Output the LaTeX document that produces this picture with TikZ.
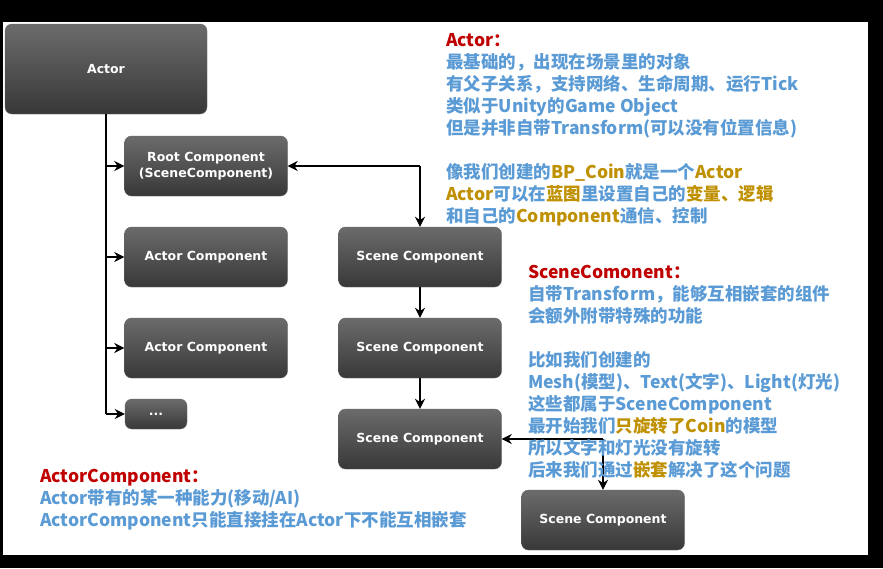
\documentclass[tikz,border=0pt]{standalone}
\usepackage{fontspec}
\usepackage{xcolor}
\setsansfont{DejaVu Sans}
\newfontfamily\cjk{Noto Sans CJK SC}
\definecolor{noteblue}{RGB}{91,155,213}
\definecolor{notered}{RGB}{192,0,0}
\definecolor{notegold}{RGB}{191,144,0}
\usetikzlibrary{arrows.meta}

\tikzset{
  comp/.style={rounded corners=7pt,top color=black!58,bottom color=black!78,draw=black!60,
    text=white,font=\sffamily\bfseries\fontsize{12.5}{16}\selectfont,align=center,
    minimum width=163pt,minimum height=60pt,inner sep=0pt},
  note/.style={anchor=north west,align=left,text=noteblue,inner sep=0pt,
    font=\cjk\bfseries\fontsize{17.5}{22}\selectfont},
  link/.style={line width=1.8pt,-{Stealth[length=10pt,width=10pt]}},
}

\begin{document}
\begin{tikzpicture}[x=1pt,y=-1pt]
        % frame
        \fill[black] (0,0) rectangle (883,568);
        \fill[white] (3,22) rectangle (868,555);
        \useasboundingbox (0,0) rectangle (883,568);

        % boxes
        \node[comp,minimum width=202pt,minimum height=90pt] (actor) at (106,69) {Actor};
        \node[comp] (root) at (206,166) {Root Component\\(SceneComponent)};
        \node[comp] (ac1) at (206,257) {Actor Component};
        \node[comp] (ac2) at (206,348) {Actor Component};
        \node[comp,minimum width=62pt,minimum height=30pt] (more) at (156,414) {...};
        \node[comp] (sc1) at (420,257) {Scene Component};
        \node[comp] (sc2) at (420,348) {Scene Component};
        \node[comp] (sc3) at (420,439) {Scene Component};
        \node[comp] (sc4) at (603,520) {Scene Component};

        % actor tree
        \draw[line width=1.8pt] (actor.south) -- (actor.south |- more);
        \foreach \n in {root,ac1,ac2,more}
          \draw[link] (actor.south |- \n) -- (\n.west);

        % scene components
        \coordinate (rc) at (sc1.north |- root.east);
        \draw[link] (rc) -- (root.east);
        \draw[link] (rc) -- (sc1.north);
        \draw[link] (sc1) -- (sc2);
        \draw[link] (sc2) -- (sc3);
        \coordinate (sc) at (sc4.north |- sc3.east);
        \draw[link] (sc) -- (sc3.east);
        \draw[link] (sc) -- (sc4.north);

        % notes
        \node[note] (actornote) at (446,33) {\textcolor{notered}{Actor：}\\
          最基础的，出现在场景里的对象\\
          有父子关系，支持网络、生命周期、运行Tick\\
          类似于Unity的Game Object\\
          但是并非自带Transform(可以没有位置信息)\\[22pt]
          像我们创建的\textcolor{notegold}{BP\_Coin}就是一个\textcolor{notegold}{Actor}\\
          \textcolor{notegold}{Actor}可以在\textcolor{notegold}{蓝图}里设置自己的\textcolor{notegold}{变量、逻辑}\\
          和自己的\textcolor{notegold}{Component}通信、控制};
        \node[note] (scenenote) at (528,265) {\textcolor{notered}{SceneComonent：}\\
          自带Transform，能够互相嵌套的组件\\
          会额外附带特殊的功能\\[22pt]
          比如我们创建的\\
          Mesh(模型)、Text(文字)、Light(灯光)\\
          这些都属于SceneComponent\\
          最开始我们\textcolor{notegold}{只旋转了Coin}的模型\\
          所以文字和灯光没有旋转\\
          后来我们通过\textcolor{notegold}{嵌套}解决了这个问题};
        \node[note] (compnote) at (40,469) {\textcolor{notered}{ActorComponent：}\\
          Actor带有的某一种能力(移动/AI)\\
          ActorComponent只能直接挂在Actor下不能互相嵌套};
\end{tikzpicture}
\end{document}
